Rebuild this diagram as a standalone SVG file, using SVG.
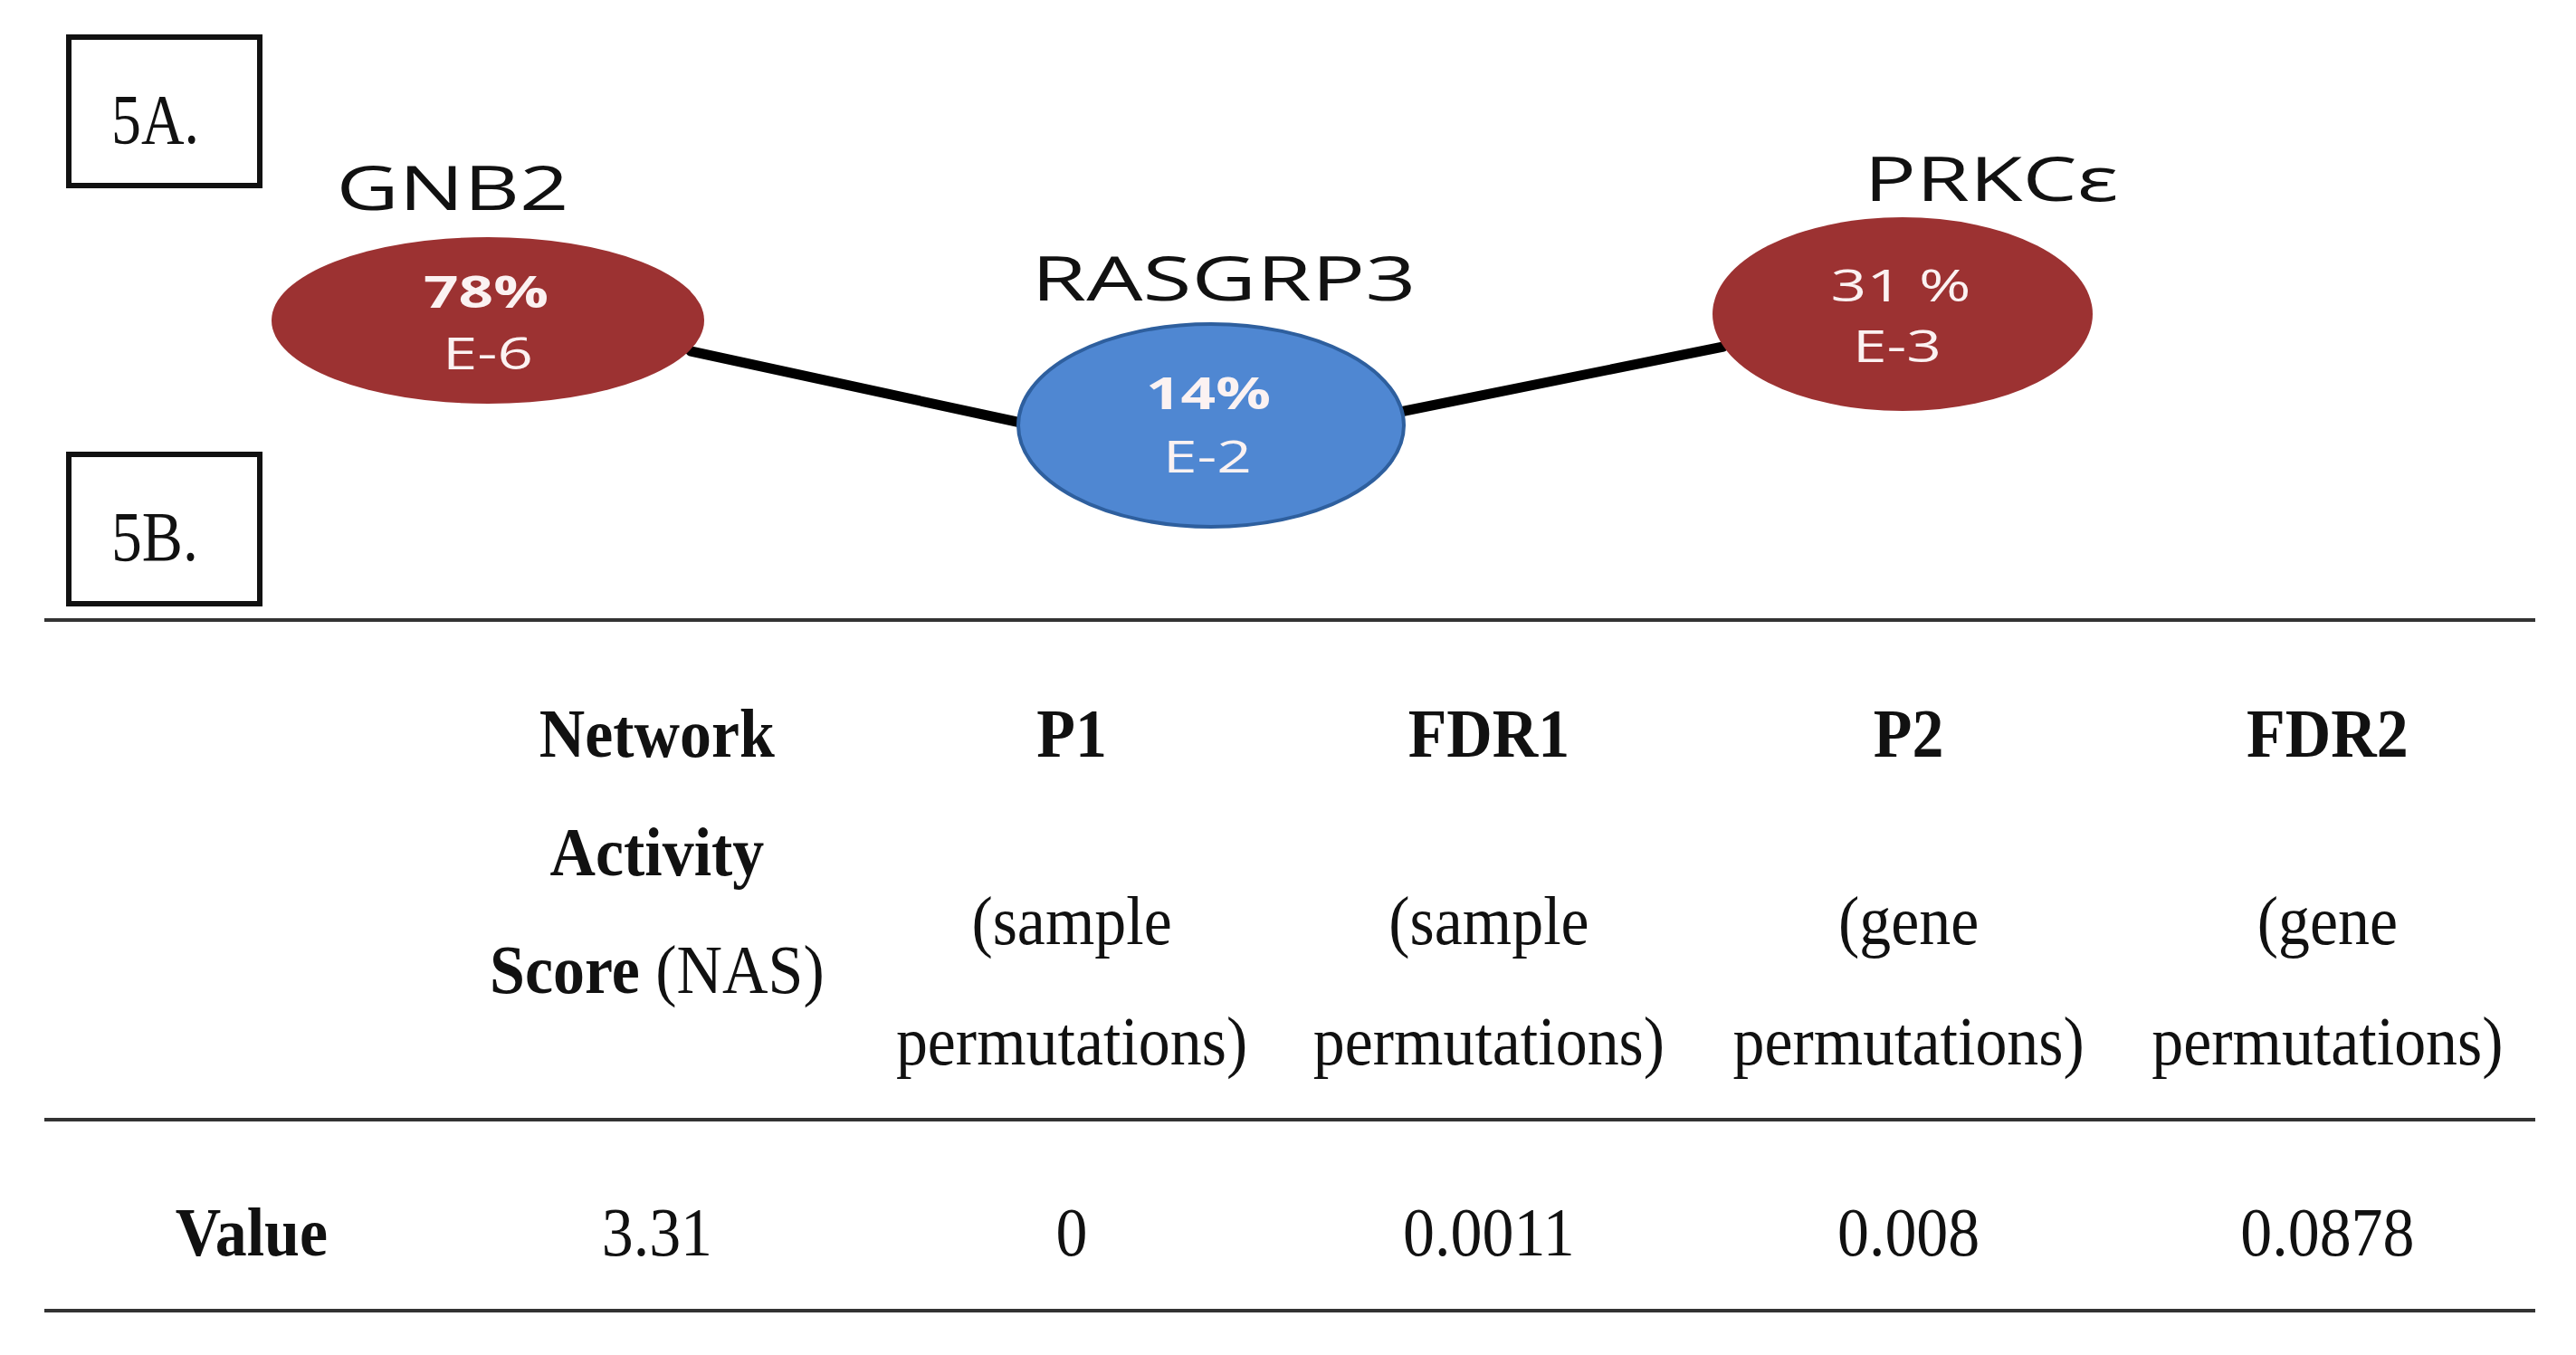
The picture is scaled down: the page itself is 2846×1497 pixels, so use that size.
<svg xmlns="http://www.w3.org/2000/svg" width="2846" height="1497" viewBox="0 0 2846 1497">
<defs>
<style>
.box{fill:none;stroke:#111;stroke-width:6}
.lbl{font-family:"Liberation Serif",serif;font-size:78px;fill:#111}
.gene{font-family:"Open Sans","Liberation Sans",sans-serif;font-size:68px;font-weight:500;fill:#111;text-anchor:middle}
.red{fill:#9c3232}
.blue{fill:#4f87d2;stroke:#2e5f9e;stroke-width:4}
.in{font-family:"Open Sans","Liberation Sans",sans-serif;font-size:49px;fill:#fbf2f2;text-anchor:middle}
.bold{font-weight:bold}
.edge{stroke:#000;stroke-width:11;fill:none;stroke-linecap:round}
.rule{stroke:#333;stroke-width:4}
.t{font-family:"Liberation Serif",serif;font-size:76px;fill:#111;text-anchor:middle}
.b{font-weight:bold}
</style>
</defs>
<rect width="2846" height="1497" fill="#fff"/>

<g id="label-5A">
<rect class="box" x="76" y="41" width="211" height="164"/>
<text class="lbl" x="123" y="158" textLength="97" lengthAdjust="spacingAndGlyphs">5A.</text>
</g>
<g id="label-5B">
<rect class="box" x="76" y="502" width="211" height="165"/>
<text class="lbl" x="123" y="619" textLength="96" lengthAdjust="spacingAndGlyphs">5B.</text>
</g>

<g id="connectors">
<line class="edge" x1="763" y1="388" x2="1128" y2="467"/>
<line class="edge" x1="1547" y1="455" x2="1904" y2="383"/>
</g>

<g id="node-GNB2">
<text class="gene" x="500" y="232" textLength="257" lengthAdjust="spacingAndGlyphs">GNB2</text>
<ellipse class="red" cx="539" cy="354" rx="239" ry="92"/>
<text class="in bold" x="537" y="340" textLength="138" lengthAdjust="spacingAndGlyphs">78%</text>
<text class="in" x="539" y="408" textLength="100" lengthAdjust="spacingAndGlyphs">E-6</text>
</g>

<g id="node-RASGRP3">
<text class="gene" x="1352" y="332" textLength="425" lengthAdjust="spacingAndGlyphs">RASGRP3</text>
<ellipse class="blue" cx="1338" cy="470" rx="213" ry="112"/>
<text class="in bold" x="1335" y="452" textLength="138" lengthAdjust="spacingAndGlyphs">14%</text>
<text class="in" x="1334" y="522" textLength="98" lengthAdjust="spacingAndGlyphs">E-2</text>
</g>

<g id="node-PRKCe">
<text class="gene" x="2200" y="222" textLength="281" lengthAdjust="spacingAndGlyphs">PRKCε</text>
<ellipse class="red" cx="2102" cy="347" rx="210" ry="107"/>
<text class="in" x="2100" y="333" textLength="155" lengthAdjust="spacingAndGlyphs">31 %</text>
<text class="in" x="2096" y="400" textLength="98" lengthAdjust="spacingAndGlyphs">E-3</text>
</g>

<g id="table-rules">
<line class="rule" x1="49" y1="685" x2="2801" y2="685"/>
<line class="rule" x1="49" y1="1237" x2="2801" y2="1237"/>
<line class="rule" x1="49" y1="1448" x2="2801" y2="1448"/>
</g>

<g id="table-text" transform="scale(0.92 1)">
<text class="t b" x="789" y="836">Network</text>
<text class="t b" x="789" y="967">Activity</text>
<text class="t" x="789" y="1097"><tspan class="b">Score</tspan> (NAS)</text>

<text class="t b" x="1287" y="836">P1</text>
<text class="t" x="1287" y="1043">(sample</text>
<text class="t" x="1287" y="1176">permutations)</text>

<text class="t b" x="1788" y="836">FDR1</text>
<text class="t" x="1788" y="1043">(sample</text>
<text class="t" x="1788" y="1176">permutations)</text>

<text class="t b" x="2292" y="836">P2</text>
<text class="t" x="2292" y="1043">(gene</text>
<text class="t" x="2292" y="1176">permutations)</text>

<text class="t b" x="2795" y="836">FDR2</text>
<text class="t" x="2795" y="1043">(gene</text>
<text class="t" x="2795" y="1176">permutations)</text>

<text class="t b" x="302" y="1387">Value</text>
<text class="t" x="789" y="1387">3.31</text>
<text class="t" x="1287" y="1387">0</text>
<text class="t" x="1788" y="1387">0.0011</text>
<text class="t" x="2292" y="1387">0.008</text>
<text class="t" x="2795" y="1387">0.0878</text>
</g>
</svg>
